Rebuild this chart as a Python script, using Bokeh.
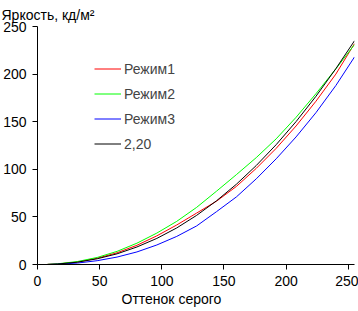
from bokeh.plotting import figure
from bokeh.models import Range1d, Legend, LegendItem, Title, FixedTicker
from bokeh.embed import file_html
from bokeh.resources import INLINE

# Grey level (input) and measured luminance, cd/m2
grey = [8, 16, 32, 48, 64, 80, 96, 112, 128, 144, 160, 176, 192, 208, 224, 240, 255]
mode1 = [0.1, 0.5, 2.6, 6.6, 12.3, 20.2, 30.1, 41.5, 54.0, 66.5, 82.0, 101.0, 122.0, 145.5, 171.5, 200.0, 232.0]
mode2 = [0.1, 0.7, 3.1, 7.4, 13.8, 22.4, 33.0, 45.3, 60.0, 77.0, 94.4, 112.3, 132.0, 154.6, 179.4, 205.5, 231.0]
mode3 = [0.0, 0.3, 1.5, 4.0, 7.8, 13.2, 20.5, 29.5, 40.5, 55.5, 71.0, 90.0, 111.0, 134.0, 159.5, 188.0, 218.0]
gamma22 = [0.1, 0.5, 2.4, 6.0, 11.2, 18.4, 27.4, 38.4, 51.6, 66.9, 84.3, 104.0, 125.9, 150.1, 176.7, 205.7, 235.0]

series_names = ["Режим1", "Режим2", "Режим3", "2,20"]
series_colors = ["#ff0000", "#00ff00", "#0000ff", "#000000"]
series_values = [mode1, mode2, mode3, gamma22]

x_ticks = [0, 50, 100, 150, 200, 250]
y_ticks = [0, 50, 100, 150, 200, 250]

FONT = "Liberation Sans"

p = figure(width=358, height=311, output_backend="svg", toolbar_location=None,
           x_range=Range1d(0, 255), y_range=Range1d(0, 250),
           min_border_left=37, min_border_right=4, min_border_top=26, min_border_bottom=47)
p.outline_line_color = None
p.grid.visible = False
p.background_fill_color = "white"
p.border_fill_color = "white"

for ax, ticks in ((p.xaxis, x_ticks), (p.yaxis, y_ticks)):
    ax.ticker = FixedTicker(ticks=ticks)
    ax.minor_tick_line_color = None
    ax.major_tick_in = 0
    ax.major_tick_out = 5
    ax.major_label_standoff = 6
    ax.major_label_text_font = FONT
    ax.major_label_text_font_size = "14px"
    ax.major_label_text_color = "black"
    ax.axis_line_color = "black"
    ax.major_tick_line_color = "black"

items = []
for name, color, vals in zip(series_names, series_colors, series_values):
    r = p.line(grey, vals, line_color=color, line_width=1)
    items.append(LegendItem(label=name, renderers=[r]))

legend = Legend(items=items, location=(57, 110), glyph_width=27, glyph_height=21,
                spacing=4, padding=0, margin=0, label_standoff=3,
                label_text_font=FONT, label_text_font_size="14px",
                border_line_color=None, background_fill_alpha=0)
p.add_layout(legend)

# vertical axis caption, top-left
p.title.text = "Яркость, кд/м²"
p.title.align = "left"
p.title.offset = -36
p.title.standoff = 8
p.title.text_font = FONT
p.title.text_font_size = "14px"
p.title.text_font_style = "normal"
p.title.text_color = "black"

# horizontal axis caption, under the tick labels
x_caption = Title(text="Оттенок серого", align="left", offset=84, standoff=0,
                  text_font=FONT, text_font_size="14px", text_font_style="normal",
                  text_color="black")
p.add_layout(x_caption, "below")

open("out.html", "w").write(file_html(p, INLINE))
